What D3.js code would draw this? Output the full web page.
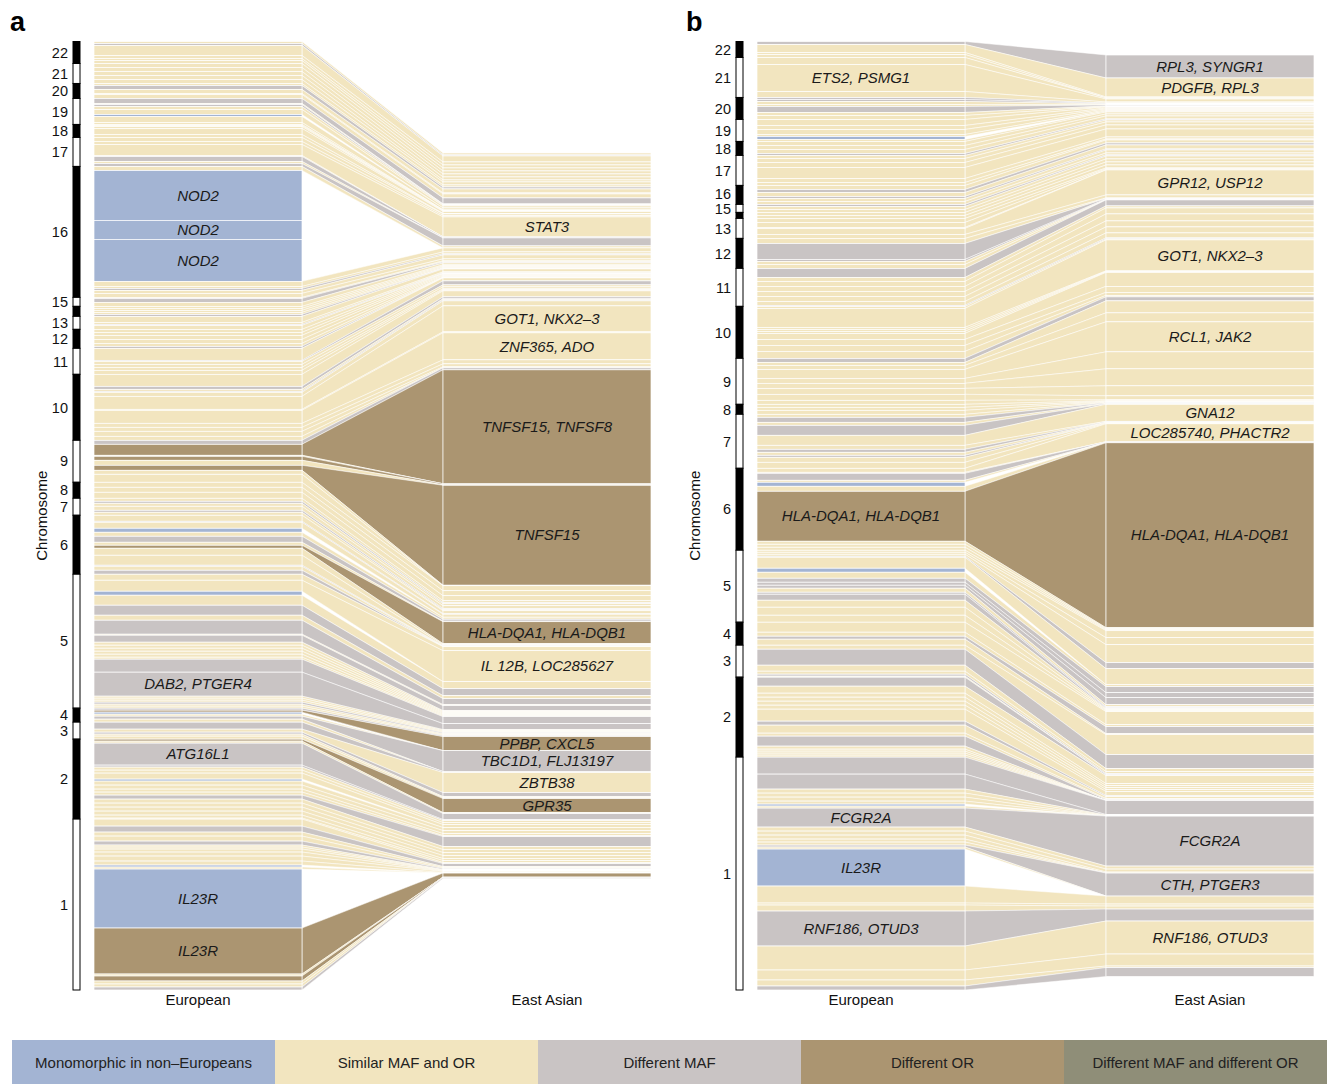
<!DOCTYPE html>
<html>
<head>
<meta charset="utf-8">
<script src="https://cdn.jsdelivr.net/npm/d3@7"></script>
<style>
  body { margin: 0; background: #fff; }
  text { font-family: "Liberation Sans", Arial, Helvetica, sans-serif; }
</style>
</head>
<body>
<div id="chart"></div>
<script>
// chromosomes from top to bottom of the ideogram
var chromosomes = [22, 21, 20, 19, 18, 17, 16, 15, 14, 13, 12, 11, 10, 9, 8, 7, 6, 5, 4, 3, 2, 1];
var chromLabelsA = [22, 21, 20, 19, 18, 17, 16, 15, 13, 12, 11, 10, 9, 8, 7, 6, 5, 4, 3, 2, 1];
var chromLabelsB = [22, 21, 20, 19, 18, 17, 16, 15, 13, 12, 11, 10, 9, 8, 7, 6, 5, 4, 3, 2, 1];

var populations = ["European", "East Asian"];
var catKeys = ["M", "S", "D", "O", "B"];
var catNames = ["Monomorphic in non\u2013Europeans", "Similar MAF and OR", "Different MAF", "Different OR", "Different MAF and different OR"];
var catColors = ["#a3b4d3", "#f2e5bf", "#c9c4c4", "#ab9571", "#8f8e78"];

// [chromosome, category, European share, East Asian share, European label, East Asian label]
var segmentsA = [
  [22,"S",2,2],[22,"D",2,1],[22,"S",10,6],[22,"S",3,3],[22,"S",2,3],[22,"S",3,3],
  [21,"S",4,3],[21,"S",4,3],[21,"S",4,3],[21,"S",4,2],[21,"S",4,3],
  [20,"S",2,2],[20,"D",4,2],[20,"S",4,4],[20,"S",1,1],[20,"S",4,4],
  [19,"D",5,6],[19,"S",1,0.5],[19,"D",2,0.5],[19,"S",3,1],[19,"S",5,2],[19,"M",2,0],[19,"S",6,2],[19,"S",2,0],
  [18,"S",1,0.5],[18,"S",1,0.5],[18,"S",2,0.5],[18,"S",6,2],[18,"S",3,0.5],
  [17,"S",4,1.5],[17,"S",3,1.5],[17,"S",11,20,"","STAT3"],[17,"S",1,0],[17,"D",5,1],[17,"S",2,0],[17,"D",3,8],
  [16,"S",4,2],[16,"M",50,0,"NOD2"],[16,"M",19,0,"NOD2"],[16,"M",42,0,"NOD2"],[16,"S",5,4],[16,"S",2,2],[16,"D",2,1],[16,"S",3,4],[16,"S",4,2],
  [15,"S",1,1],[15,"D",4,1],[15,"S",4,2],
  [14,"S",2,1],[14,"S",2,1],[14,"S",2,1],[14,"S",2,0.5],[14,"D",2,0.5],
  [13,"S",6,3],[13,"S",2,1],[13,"D",1,0.5],[13,"S",4,0.5],
  [12,"S",3,1],[12,"S",3,1],[12,"S",4,1],[12,"S",4,0.5],[12,"S",3,0.5],[12,"D",2,0],
  [11,"S",12,3],[11,"D",1,4],[11,"S",3,2],[11,"S",3,2],[11,"S",3,1],[11,"S",4,1],
  [10,"S",12,6],[10,"D",3,2],[10,"S",2,1],[10,"D",1,1],[10,"S",4,5],[10,"S",13,26,"","GOT1, NKX2\u20133"],[10,"S",1,1],
  [10,"S",13,27,"","ZNF365, ADO"],[10,"S",4,4],[10,"S",4,3],[10,"S",5,1],[10,"S",4,0],
  [9,"D",4,2],[9,"O",11,114,"","TNFSF15, TNFSF8"],[9,"S",1,0],[9,"O",4,1],[9,"S",5,0.5],[9,"O",5,100,"","TNFSF15"],[9,"S",4,0.5],[9,"S",8,0],
  [8,"S",5,5],[8,"S",5,5],[8,"S",6,5],
  [7,"S",3,2],[7,"D",2,1],[7,"S",3,2],[7,"S",4,3],[7,"D",2,1],[7,"S",3,1],
  [6,"S",6,3],[6,"D",1,0.5],[6,"S",6,3],[6,"M",4,0],[6,"S",4,2],[6,"D",6,2],[6,"S",3,0.5],[6,"O",3,22,"","HLA-DQA1, HLA-DQB1"],
  [6,"S",7,1],[6,"S",10,1],[6,"D",1,0.5],[6,"S",4,0.5],[6,"D",4,0],
  [5,"S",6,4],[5,"S",11,31,"","IL 12B, LOC285627"],[5,"M",4,0],[5,"S",10,7],[5,"D",10,7],[5,"S",5,3],[5,"D",14,6],[5,"S",1,1],
  [5,"D",7,5],[5,"S",3,1],[5,"S",3,1],[5,"S",3,1],[5,"S",3,1],[5,"S",3,1],[5,"S",2,1],[5,"D",13,7],[5,"D",24,6,"DAB2, PTGER4"],
  [5,"S",2,1],[5,"S",2,1],[5,"S",2,1],[5,"D",2,1],[5,"S",2,1],[5,"S",2,1],
  [4,"D",2,1],[4,"O",2,14,"","PPBP, CXCL5"],[4,"M",2,0],[4,"S",2,0],[4,"D",3,21,"","TBC1D1, FLJ13197"],[4,"S",3,0],
  [3,"D",7,1],[3,"S",3,20,"","ZBTB38"],[3,"D",2,4],[3,"S",2,1],[3,"S",3,1],
  [2,"O",2,14,"","GPR35"],[2,"S",2,1],[2,"D",22,6,"ATG16L1"],[2,"D",2,1],[2,"S",3,2],[2,"S",3,2],[2,"S",6,3],[2,"M",2,0],
  [2,"S",4,3],[2,"S",4,3],[2,"S",3,2],[2,"S",3,1],[2,"D",4,10],[2,"S",4,3],[2,"S",4,3],[2,"S",4,3],[2,"S",4,3],[2,"S",3,2],[2,"S",1,2],
  [1,"S",7,1],[1,"D",6,3],[1,"S",4,1],[1,"S",5,1],[1,"D",4,1],[1,"S",2,0.5],[1,"S",2,0.5],[1,"S",3,0.5],[1,"S",4,0.5],[1,"S",5,1],
  [1,"S",4,0.5],[1,"M",2,0],[1,"S",2,0],[1,"M",59,0,"IL23R"],[1,"O",46,4,"IL23R"],[1,"S",2,0],[1,"O",5,0.5],[1,"S",3,0],[1,"S",3,0],[1,"D",3,1]
];

var segmentsB = [
  [22,"D",3,23,"","RPL3, SYNGR1"],[22,"S",8,19,"","PDGFB, RPL3"],[22,"S",2,1],[22,"S",3,0],
  [21,"S",7,1],[21,"S",27,3,"ETS2, PSMG1"],[21,"S",6,1],
  [20,"D",2,0.5],[20,"D",2,0.5],[20,"S",3,0.5],[20,"S",2,0.5],[20,"D",6,1],[20,"S",3,0.5],[20,"S",4,0.5],
  [19,"S",6,1],[19,"S",4,1],[19,"S",5,1],[19,"S",2,1],[19,"M",3,0],[19,"S",2,1],
  [18,"S",4,2],[18,"S",4,2],[18,"S",4,3],[18,"D",2,1],
  [17,"S",3,2],[17,"S",4,3],[17,"S",5,4],[17,"S",11,8],[17,"S",4,2],[17,"S",3,1],
  [16,"S",4,3],[16,"D",3,2],[16,"S",4,4],[16,"D",2,1],[16,"S",3,3],[16,"S",3,2],
  [15,"D",2,1],[15,"S",3,3],[15,"S",3,3],
  [14,"S",3,3],[14,"S",3,3],
  [13,"S",4,1],[13,"S",5,1],[13,"S",1,0],[13,"S",6,25,"","GPR12, USP12"],[13,"S",4,3],
  [12,"S",5,0.5],[12,"D",16,0.5],[12,"D",2,0.5],[12,"S",3,0.5],[12,"S",4,0],
  [11,"D",9,6],[11,"S",4,2],[11,"S",5,6],[11,"S",5,7],[11,"S",5,6],[11,"S",5,6],[11,"S",4,5],[11,"D",1,1],
  [10,"S",2,1],[10,"S",19,31,"","GOT1, NKX2\u20133"],[10,"S",2,0.5],[10,"S",2,0.5],[10,"S",2,0.5],[10,"S",6,14],[10,"S",6,6],[10,"S",6,3],[10,"S",7,1.5],
  [9,"D",4,4],[9,"S",3,12],[9,"S",4,9],[9,"S",9,30,"","RCL1, JAK2"],[9,"S",5,17],[9,"S",5,17],[9,"S",6,10],[9,"S",6,4],[9,"S",4,1],
  [8,"S",3,0.5],[8,"S",3,0.5],[8,"S",4,0.5],
  [7,"S",3,0.5],[7,"D",5,0.5],[7,"S",3,0.5],[7,"D",10,0.5],[7,"S",10,17,"","GNA12"],[7,"S",4,0.5],[7,"D",3,0.5],[7,"S",3,0.5],
  [7,"D",2,0],[7,"S",5,0.5],[7,"S",6,0.5],
  [6,"S",4,18,"","LOC285740, PHACTR2"],[6,"S",1,0],[6,"D",7,0.5],[6,"S",2,0],[6,"M",4,0],[6,"S",5,0.5],
  [6,"O",50,185,"HLA-DQA1, HLA-DQB1","HLA-DQA1, HLA-DQB1"],[6,"S",3,1],[6,"S",3,1],[6,"S",3,1],
  [5,"S",2,7],[5,"S",2,7],[5,"S",2,18],[5,"D",1,6],[5,"S",11,16],[5,"M",4,0],[5,"S",6,2],[5,"D",4,6],[5,"D",3,5],[5,"D",3,7],
  [5,"S",4,2],[5,"D",2,1],[5,"D",6,1],[5,"S",7,1],[5,"S",8,1],[5,"S",7,1],
  [4,"S",10,13],[4,"S",4,2],[4,"D",3,7],[4,"S",6,1],
  [3,"S",4,20],[3,"D",16,14],[3,"S",6,3],[3,"S",3,2],[3,"D",2,1],[3,"S",1,0],
  [2,"D",9,1],[2,"S",7,8],[2,"S",4,2],[2,"S",4,2],[2,"S",4,2],[2,"S",4,2],[2,"S",12,4],[2,"D",4,1],[2,"S",8,2],[2,"S",3,1],
  [2,"D",10,1],[2,"S",3,0],[2,"S",2,0],[2,"S",2,0],[2,"S",2,0],[2,"S",2,0],
  [1,"D",17,14],[1,"D",15,0.5],[1,"S",4,0.5],[1,"S",4,0.5],[1,"S",4,0],[1,"S",3,0],[1,"M",2,0],[1,"S",2,0],
  [1,"D",19,50,"FCGR2A","FCGR2A"],[1,"S",4,3],[1,"S",4,3],[1,"S",4,1],[1,"S",3,0],[1,"S",3,0],[1,"D",2,23,"","CTH, PTGER3"],
  [1,"S",2,0],[1,"M",37,0,"IL23R"],[1,"S",17,8],[1,"S",2,2],[1,"S",6,3],[1,"D",35,12,"RNF186, OTUD3"],
  [1,"S",24,33,"","RNF186, OTUD3"],[1,"S",10,12],[1,"S",6,1.5],[1,"D",4,9]
];

var width = 1327, height = 1084;
var yTop = 41.5, yBottom = 990;
var colW = 208;

var color = d3.scaleOrdinal().domain(catKeys).range(catColors);
var xCol = d3.scaleOrdinal().domain(populations).range([94, 443]);

var svg = d3.select("#chart")
  .append("svg")
    .attr("width", width)
    .attr("height", height);

function drawPanel(g, segs, chromLabels, letter, letterX, titleX) {
  var totE = d3.sum(segs, function(d) { return d[2]; });
  var totA = d3.sum(segs, function(d) { return d[3]; });

  var yE = d3.scaleLinear().domain([0, totE]).range([yTop, yBottom]);
  var k = (yBottom - yTop) / totE, mid = (yTop + yBottom) / 2;
  var yA = d3.scaleLinear().domain([0, totA]).range([mid - totA * k / 2, mid + totA * k / 2]);

  var ce = 0, ca = 0;
  var rows = segs.map(function(d) {
    var r = { chr: d[0], cat: d[1], e0: ce, e1: ce + d[2], a0: ca, a1: ca + d[3], le: d[4] || "", la: d[5] || "" };
    ce += d[2]; ca += d[3];
    return r;
  });

  var xE = xCol("European"), xA = xCol("East Asian");

  // links between the two columns
  g.append("g").selectAll("path")
    .data(rows.filter(function(r) { return r.cat !== "M"; }))
    .enter().append("path")
      .attr("d", function(r) {
        return "M" + (xE + colW) + "," + yE(r.e0) + "L" + xA + "," + yA(r.a0) +
               "L" + xA + "," + yA(r.a1) + "L" + (xE + colW) + "," + yE(r.e1) + "Z";
      })
      .attr("fill", function(r) { return color(r.cat); })
      .attr("stroke", "#fff")
      .attr("stroke-width", 0.5);

  // European column
  g.append("g").selectAll("rect")
    .data(rows)
    .enter().append("rect")
      .attr("x", xE)
      .attr("width", colW)
      .attr("y", function(r) { return yE(r.e0); })
      .attr("height", function(r) { return yE(r.e1) - yE(r.e0); })
      .attr("fill", function(r) { return color(r.cat); })
      .attr("stroke", "#fff")
      .attr("stroke-width", 0.7);

  // East Asian column
  g.append("g").selectAll("rect")
    .data(rows.filter(function(r) { return r.a1 > r.a0; }))
    .enter().append("rect")
      .attr("x", xA)
      .attr("width", colW)
      .attr("y", function(r) { return yA(r.a0); })
      .attr("height", function(r) { return yA(r.a1) - yA(r.a0); })
      .attr("fill", function(r) { return color(r.cat); })
      .attr("stroke", "#fff")
      .attr("stroke-width", 0.7);

  // gene labels
  g.append("g").selectAll("text")
    .data(rows.filter(function(r) { return r.le; }))
    .enter().append("text")
      .attr("x", xE + colW / 2)
      .attr("y", function(r) { return (yE(r.e0) + yE(r.e1)) / 2; })
      .attr("dy", "0.35em")
      .attr("text-anchor", "middle")
      .style("font-size", "15px")
      .style("font-style", "italic")
      .attr("fill", "#1a1a1a")
      .text(function(r) { return r.le; });

  g.append("g").selectAll("text")
    .data(rows.filter(function(r) { return r.la; }))
    .enter().append("text")
      .attr("x", xA + colW / 2)
      .attr("y", function(r) { return (yA(r.a0) + yA(r.a1)) / 2; })
      .attr("dy", "0.35em")
      .attr("text-anchor", "middle")
      .style("font-size", "15px")
      .style("font-style", "italic")
      .attr("fill", "#1a1a1a")
      .text(function(r) { return r.la; });

  // chromosome ideogram
  var ext = chromosomes.map(function(c) {
    var v = rows.filter(function(r) { return r.chr === c; });
    return { chr: c, y0: yE(d3.min(v, function(r) { return r.e0; })), y1: yE(d3.max(v, function(r) { return r.e1; })) };
  });

  g.append("g").selectAll("rect")
    .data(ext)
    .enter().append("rect")
      .attr("x", 73)
      .attr("width", 7)
      .attr("y", function(d) { return d.y0; })
      .attr("height", function(d) { return d.y1 - d.y0; })
      .attr("fill", function(d) { return d.chr % 2 === 0 ? "#000" : "#fff"; })
      .attr("stroke", "#000")
      .attr("stroke-width", 1);

  // label positions: centred on each chromosome, nudged apart where they crowd
  var labs = ext.filter(function(d) { return chromLabels.indexOf(d.chr) >= 0; })
    .map(function(d) { return { chr: d.chr, y: (d.y0 + d.y1) / 2 }; });
  for (var i = 1; i < labs.length; i++) {
    var gap = labs[i].y - labs[i - 1].y;
    if (gap < 15) { labs[i - 1].y -= (15 - gap) / 2; labs[i].y += (15 - gap) / 2; }
  }

  g.append("g").selectAll("text")
    .data(labs)
    .enter().append("text")
      .attr("x", 68)
      .attr("y", function(d) { return d.y; })
      .attr("dy", "0.36em")
      .attr("text-anchor", "end")
      .style("font-size", "14.5px")
      .attr("fill", "#111")
      .text(function(d) { return d.chr; });

  g.append("text")
    .attr("transform", "translate(" + titleX + "," + mid + ") rotate(-90)")
    .attr("dy", "0.35em")
    .attr("text-anchor", "middle")
    .style("font-size", "15px")
    .attr("fill", "#111")
    .text("Chromosome");

  // column names
  g.append("g").selectAll("text")
    .data(populations)
    .enter().append("text")
      .attr("x", function(p) { return xCol(p) + colW / 2; })
      .attr("y", 1005)
      .attr("text-anchor", "middle")
      .style("font-size", "15px")
      .attr("fill", "#111")
      .text(function(p) { return p; });

  g.append("text")
    .attr("x", letterX)
    .attr("y", 31)
    .style("font-size", "27px")
    .style("font-weight", "bold")
    .attr("fill", "#000")
    .text(letter);
}

drawPanel(svg.append("g"), segmentsA, chromLabelsA, "a", 10, 42);
drawPanel(svg.append("g").attr("transform", "translate(663,0)"), segmentsB, chromLabelsB, "b", 23, 32);

// legend
var legendX = d3.scaleBand().domain(catNames).range([12, 1327]);
var legend = svg.append("g").selectAll("g")
  .data(catNames)
  .enter().append("g");

legend.append("rect")
  .attr("x", function(d) { return legendX(d); })
  .attr("y", 1040)
  .attr("width", legendX.bandwidth())
  .attr("height", 44)
  .attr("fill", function(d, i) { return catColors[i]; });

legend.append("text")
  .attr("x", function(d) { return legendX(d) + legendX.bandwidth() / 2; })
  .attr("y", 1063)
  .attr("dy", "0.35em")
  .attr("text-anchor", "middle")
  .style("font-size", "15px")
  .attr("fill", "#222")
  .text(function(d) { return d; });
</script>
</body>
</html>
